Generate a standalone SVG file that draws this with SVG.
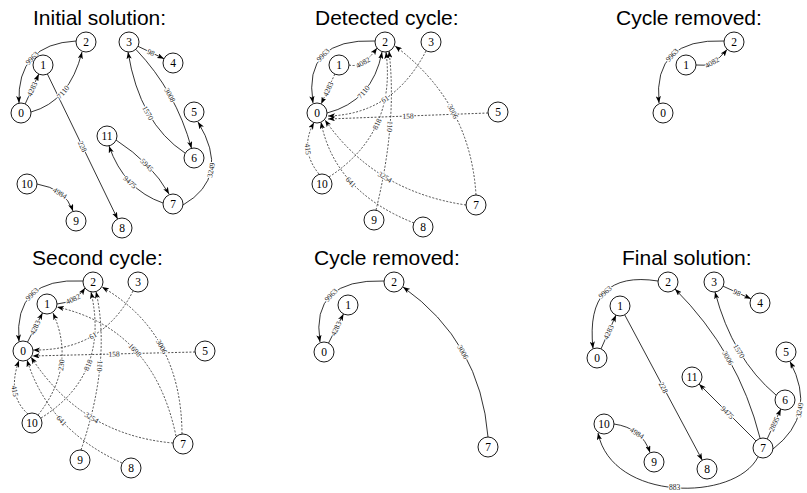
<svg xmlns="http://www.w3.org/2000/svg" width="807" height="493" viewBox="0 0 807 493">
<defs>
<marker id="ah" viewBox="0 0 8 6" refX="8" refY="3" markerWidth="7" markerHeight="5.25" orient="auto" markerUnits="userSpaceOnUse">
<path d="M0,0 L8,3 L0,6 L2,3z" fill="#000"/>
</marker>
</defs>
<style>
.t{font-family:"Liberation Sans",Arial,sans-serif;font-size:21px;fill:#000}
.n circle{fill:#fff;stroke:#000;stroke-width:0.9}
.n text{font-family:"Liberation Serif","Times New Roman",serif;font-size:11.5px;text-anchor:middle;fill:#000}
.e{fill:none;stroke:#000;stroke-width:0.8;marker-end:url(#ah)}
.d{stroke-dasharray:2 1.6;stroke:#222}
.l{font-family:"Liberation Serif","Times New Roman",serif;font-size:7.5px;text-anchor:middle;fill:#222;stroke:#fff;stroke-width:2;paint-order:stroke}
</style>
<rect width="807" height="493" fill="#fff"/>

<!-- Panel 1: initial solution -->
<g id="panel1">
<text class="t" x="33" y="25">Initial solution:</text>
<g id="p1-edges">
<path class="e" d="M76,41 Q16.5,44 19,103"/>
<path class="e" d="M25.2,103.9 L38.8,74.1"/>
<path class="e" d="M31,112 Q69.5,101.5 82,52"/>
<path class="e" d="M47.4,74 L117.6,219"/>
<path class="e" d="M138,46.3 L164,58.7"/>
<path class="e" d="M136,49.5 Q176,91.5 191.5,148.3"/>
<path class="e" d="M185,153 Q139.5,123 128,52"/>
<path class="e" d="M116,140 Q151.5,163 169,194"/>
<path class="e" d="M163,203 Q124,189.5 109,146"/>
<path class="e" d="M183,205 Q231.5,177 198,122"/>
<path class="e" d="M37,184 Q65,188.5 73,211"/>
<text class="l" x="32" y="58" dy=".35em" transform="rotate(-47 32 58)">9963</text>
<text class="l" x="32" y="89" dy=".35em" transform="rotate(-65 32 89)">4283</text>
<text class="l" x="63" y="92" dy=".35em" transform="rotate(-50 63 92)">7110</text>
<text class="l" x="82.5" y="146.5" dy=".35em" transform="rotate(64 82.5 146.5)">228</text>
<text class="l" x="151" y="52.5" dy=".35em" transform="rotate(25.5 151 52.5)">98</text>
<text class="l" x="170" y="95" dy=".35em" transform="rotate(61 170 95)">3008</text>
<text class="l" x="148" y="113" dy=".35em" transform="rotate(60 148 113)">1570</text>
<text class="l" x="147" y="165" dy=".35em" transform="rotate(45 147 165)">5945</text>
<text class="l" x="130" y="182" dy=".35em" transform="rotate(42 130 182)">9475</text>
<text class="l" x="211" y="170" dy=".35em" transform="rotate(-78 211 170)">3249</text>
<text class="l" x="60" y="193" dy=".35em" transform="rotate(32 60 193)">4984</text>
</g>
<g id="p1-n0" class="n" transform="translate(21,113)"><circle r="10"/><text y="3.9">0</text></g>
<g id="p1-n1" class="n" transform="translate(43,65)"><circle r="10"/><text y="3.9">1</text></g>
<g id="p1-n2" class="n" transform="translate(86,42)"><circle r="10"/><text y="3.9">2</text></g>
<g id="p1-n3" class="n" transform="translate(129,42)"><circle r="10"/><text y="3.9">3</text></g>
<g id="p1-n4" class="n" transform="translate(173,63)"><circle r="10"/><text y="3.9">4</text></g>
<g id="p1-n5" class="n" transform="translate(194,112)"><circle r="10"/><text y="3.9">5</text></g>
<g id="p1-n6" class="n" transform="translate(194,158)"><circle r="10"/><text y="3.9">6</text></g>
<g id="p1-n7" class="n" transform="translate(173,204)"><circle r="10"/><text y="3.9">7</text></g>
<g id="p1-n8" class="n" transform="translate(122,228)"><circle r="10"/><text y="3.9">8</text></g>
<g id="p1-n9" class="n" transform="translate(76,221)"><circle r="10"/><text y="3.9">9</text></g>
<g id="p1-n10" class="n" transform="translate(27,184)"><circle r="10"/><text y="3.9">10</text></g>
<g id="p1-n11" class="n" transform="translate(107,136)"><circle r="10"/><text y="3.9">11</text></g>
</g>

<!-- Panel 2: detected cycle -->
<g id="panel2">
<text class="t" x="315" y="25">Detected cycle:</text>
<g id="p2-edges">
<path class="e" d="M375,41 Q302.5,38 313,103"/>
<path class="e" d="M327,113 Q372.6,101.4 382,52"/>
<path class="e d" d="M349,65 Q362.5,68.5 377,48"/>
<path class="e d" d="M334.8,74.1 L321.2,103.9"/>
<path class="e d" d="M426,51 Q393,114.5 328,116"/>
<path class="e d" d="M488,113 L328,119"/>
<path class="e d" d="M476,195 Q470.4,102.4 395,46"/>
<path class="e d" d="M329,177 Q396.5,133 386,52"/>
<path class="e d" d="M376,210 Q397.5,122.5 389,51"/>
<path class="e d" d="M319,174 Q299,149.5 314,122.5"/>
<path class="e d" d="M414,223 Q334.5,191.5 321,122"/>
<path class="e d" d="M466,205 Q374.5,191.5 325,120"/>
<text class="l" x="323" y="55" dy=".35em" transform="rotate(-47 323 55)">9963</text>
<text class="l" x="363.5" y="92" dy=".35em" transform="rotate(-50 363.5 92)">7110</text>
<text class="l" x="363" y="62.5" dy=".35em" transform="rotate(-30 363 62.5)">4082</text>
<text class="l" x="328" y="89" dy=".35em" transform="rotate(-65 328 89)">4283</text>
<text class="l" x="385" y="99" dy=".35em" transform="rotate(-34 385 99)">61</text>
<text class="l" x="408" y="116" dy=".35em" transform="rotate(-2 408 116)">158</text>
<text class="l" x="453" y="111.5" dy=".35em" transform="rotate(64 453 111.5)">3006</text>
<text class="l" x="377" y="124" dy=".35em" transform="rotate(-65 377 124)">818</text>
<text class="l" x="390" y="126.5" dy=".35em" transform="rotate(95 390 126.5)">110</text>
<text class="l" x="308" y="149" dy=".35em" transform="rotate(84 308 149)">415</text>
<text class="l" x="351" y="182" dy=".35em" transform="rotate(47 351 182)">641</text>
<text class="l" x="385" y="177" dy=".35em" transform="rotate(31 385 177)">3254</text>
</g>
<g id="p2-n0" class="n" transform="translate(317,113)"><circle r="10"/><text y="3.9">0</text></g>
<g id="p2-n1" class="n" transform="translate(339,65)"><circle r="10"/><text y="3.9">1</text></g>
<g id="p2-n2" class="n" transform="translate(385,42)"><circle r="10"/><text y="3.9">2</text></g>
<g id="p2-n3" class="n" transform="translate(431,42)"><circle r="10"/><text y="3.9">3</text></g>
<g id="p2-n5" class="n" transform="translate(498,112)"><circle r="10"/><text y="3.9">5</text></g>
<g id="p2-n7" class="n" transform="translate(476,205)"><circle r="10"/><text y="3.9">7</text></g>
<g id="p2-n8" class="n" transform="translate(423,227)"><circle r="10"/><text y="3.9">8</text></g>
<g id="p2-n9" class="n" transform="translate(374,220)"><circle r="10"/><text y="3.9">9</text></g>
<g id="p2-n10" class="n" transform="translate(322,184)"><circle r="10"/><text y="3.9">10</text></g>
</g>

<!-- Panel 3: cycle removed -->
<g id="panel3">
<text class="t" x="616" y="25">Cycle removed:</text>
<g id="p3-edges">
<path class="e" d="M724,41 Q652.5,38 659,103"/>
<path class="e" d="M696,65 Q712.5,68 727,49.5"/>
<text class="l" x="672" y="55" dy=".35em" transform="rotate(-48 672 55)">9963</text>
<text class="l" x="712" y="62.5" dy=".35em" transform="rotate(-30 712 62.5)">4082</text>
</g>
<g id="p3-n0" class="n" transform="translate(663,113)"><circle r="10"/><text y="3.9">0</text></g>
<g id="p3-n1" class="n" transform="translate(686,65)"><circle r="10"/><text y="3.9">1</text></g>
<g id="p3-n2" class="n" transform="translate(734,42)"><circle r="10"/><text y="3.9">2</text></g>
</g>

<!-- Panel 4: second cycle -->
<g id="panel4">
<text class="t" x="32" y="265">Second cycle:</text>
<g id="p4-edges">
<path class="e" d="M83,281 Q13,277 19,341.5"/>
<path class="e" d="M27.5,342.1 L42.5,312.9"/>
<path class="e" d="M57,304 Q75,302.5 85,288"/>
<path class="e d" d="M133,291 Q103,351 33,350"/>
<path class="e d" d="M195,352 L32.5,356"/>
<path class="e d" d="M182,434 Q181.4,332.9 102,287"/>
<path class="e d" d="M176,436 Q153.5,328.5 57,307"/>
<path class="e d" d="M38,415 Q76.9,366 53,313"/>
<path class="e d" d="M41,418 Q110,375 91,292"/>
<path class="e d" d="M81,450 Q111.5,361 96,291.5"/>
<path class="e d" d="M28,414 Q6.5,395 19,360.5"/>
<path class="e d" d="M122,463 Q48.9,430 27,360"/>
<path class="e d" d="M173,443 Q81.4,435 31,357"/>
<text class="l" x="32" y="294" dy=".35em" transform="rotate(-45 32 294)">9963</text>
<text class="l" x="35" y="327.5" dy=".35em" transform="rotate(-63 35 327.5)">4283</text>
<text class="l" x="73" y="299" dy=".35em" transform="rotate(-25 73 299)">4082</text>
<text class="l" x="93" y="335.5" dy=".35em" transform="rotate(-30 93 335.5)">61</text>
<text class="l" x="114" y="354" dy=".35em" transform="rotate(-1.5 114 354)">158</text>
<text class="l" x="161.7" y="346.7" dy=".35em" transform="rotate(62 161.7 346.7)">3006</text>
<text class="l" x="135" y="350" dy=".35em" transform="rotate(47 135 350)">1698</text>
<text class="l" x="61.2" y="365" dy=".35em" transform="rotate(-82 61.2 365)">230</text>
<text class="l" x="88" y="365" dy=".35em" transform="rotate(-68 88 365)">818</text>
<text class="l" x="100" y="366" dy=".35em" transform="rotate(95 100 366)">110</text>
<text class="l" x="15" y="391" dy=".35em" transform="rotate(80 15 391)">415</text>
<text class="l" x="61.7" y="420.7" dy=".35em" transform="rotate(47 61.7 420.7)">641</text>
<text class="l" x="91.7" y="417.5" dy=".35em" transform="rotate(31 91.7 417.5)">3254</text>
</g>
<g id="p4-n0" class="n" transform="translate(23,351)"><circle r="10"/><text y="3.9">0</text></g>
<g id="p4-n1" class="n" transform="translate(47,304)"><circle r="10"/><text y="3.9">1</text></g>
<g id="p4-n2" class="n" transform="translate(93,282)"><circle r="10"/><text y="3.9">2</text></g>
<g id="p4-n3" class="n" transform="translate(138,282)"><circle r="10"/><text y="3.9">3</text></g>
<g id="p4-n5" class="n" transform="translate(205,351)"><circle r="10"/><text y="3.9">5</text></g>
<g id="p4-n7" class="n" transform="translate(183,444)"><circle r="10"/><text y="3.9">7</text></g>
<g id="p4-n8" class="n" transform="translate(131,468)"><circle r="10"/><text y="3.9">8</text></g>
<g id="p4-n9" class="n" transform="translate(80,460)"><circle r="10"/><text y="3.9">9</text></g>
<g id="p4-n10" class="n" transform="translate(32,423)"><circle r="10"/><text y="3.9">10</text></g>
</g>

<!-- Panel 5: cycle removed -->
<g id="panel5">
<text class="t" x="314" y="265">Cycle removed:</text>
<g id="p5-edges">
<path class="e" d="M384,281 Q310,278.5 320,342"/>
<path class="e" d="M328.5,343.1 L343.5,313.9"/>
<path class="e" d="M488,437 Q480.5,342 403,287"/>
<text class="l" x="331" y="295" dy=".35em" transform="rotate(-47 331 295)">9963</text>
<text class="l" x="336" y="328.5" dy=".35em" transform="rotate(-63 336 328.5)">4283</text>
<text class="l" x="463" y="352" dy=".35em" transform="rotate(61 463 352)">3006</text>
</g>
<g id="p5-n0" class="n" transform="translate(324,352)"><circle r="10"/><text y="3.9">0</text></g>
<g id="p5-n1" class="n" transform="translate(348,305)"><circle r="10"/><text y="3.9">1</text></g>
<g id="p5-n2" class="n" transform="translate(394,282)"><circle r="10"/><text y="3.9">2</text></g>
<g id="p5-n7" class="n" transform="translate(488,447)"><circle r="10"/><text y="3.9">7</text></g>
</g>

<!-- Panel 6: final solution -->
<g id="panel6">
<text class="t" x="622" y="265">Final solution:</text>
<g id="p6-edges">
<path class="e" d="M658,281 Q584.5,269.5 593,348.5"/>
<path class="e" d="M601,348.9 L616,315.1"/>
<path class="e" d="M624.7,314.8 L702.3,460.2"/>
<path class="e" d="M723.1,286.2 L750.9,298.8"/>
<path class="e" d="M776,395 Q732.5,358.5 715,292"/>
<path class="e" d="M760,438 Q738.5,352.5 675,289"/>
<path class="e" d="M755.9,440.9 L699.1,384.1"/>
<path class="e" d="M767.2,438.9 L780.8,409.1"/>
<path class="e" d="M773,449 Q818,414.5 790,361.5"/>
<path class="e" d="M614,424 Q642,428 650,452.5"/>
<path class="e" d="M758,457 C735,502 612,502 598,433"/>
<text class="l" x="605" y="292" dy=".35em" transform="rotate(-42 605 292)">9963</text>
<text class="l" x="608.5" y="332" dy=".35em" transform="rotate(-66 608.5 332)">4283</text>
<text class="l" x="663.5" y="387.5" dy=".35em" transform="rotate(62 663.5 387.5)">228</text>
<text class="l" x="737" y="292.5" dy=".35em" transform="rotate(24.5 737 292.5)">98</text>
<text class="l" x="739" y="351" dy=".35em" transform="rotate(59 739 351)">1570</text>
<text class="l" x="728" y="358" dy=".35em" transform="rotate(60 728 358)">3006</text>
<text class="l" x="727.5" y="412.5" dy=".35em" transform="rotate(45 727.5 412.5)">9475</text>
<text class="l" x="774" y="424" dy=".35em" transform="rotate(-65 774 424)">2895</text>
<text class="l" x="799.5" y="410" dy=".35em" transform="rotate(-79 799.5 410)">3249</text>
<text class="l" x="637" y="433" dy=".35em" transform="rotate(33 637 433)">4984</text>
<text class="l" x="674.6" y="487.8" dy=".35em">883</text>
</g>
<g id="p6-n0" class="n" transform="translate(597,358)"><circle r="10"/><text y="3.9">0</text></g>
<g id="p6-n1" class="n" transform="translate(620,306)"><circle r="10"/><text y="3.9">1</text></g>
<g id="p6-n2" class="n" transform="translate(668,282)"><circle r="10"/><text y="3.9">2</text></g>
<g id="p6-n3" class="n" transform="translate(714,282)"><circle r="10"/><text y="3.9">3</text></g>
<g id="p6-n4" class="n" transform="translate(760,303)"><circle r="10"/><text y="3.9">4</text></g>
<g id="p6-n5" class="n" transform="translate(786,352)"><circle r="10"/><text y="3.9">5</text></g>
<g id="p6-n6" class="n" transform="translate(785,400)"><circle r="10"/><text y="3.9">6</text></g>
<g id="p6-n7" class="n" transform="translate(763,448)"><circle r="10"/><text y="3.9">7</text></g>
<g id="p6-n8" class="n" transform="translate(707,469)"><circle r="10"/><text y="3.9">8</text></g>
<g id="p6-n9" class="n" transform="translate(654,462)"><circle r="10"/><text y="3.9">9</text></g>
<g id="p6-n10" class="n" transform="translate(604,424)"><circle r="10"/><text y="3.9">10</text></g>
<g id="p6-n11" class="n" transform="translate(692,377)"><circle r="10"/><text y="3.9">11</text></g>
</g>
</svg>
